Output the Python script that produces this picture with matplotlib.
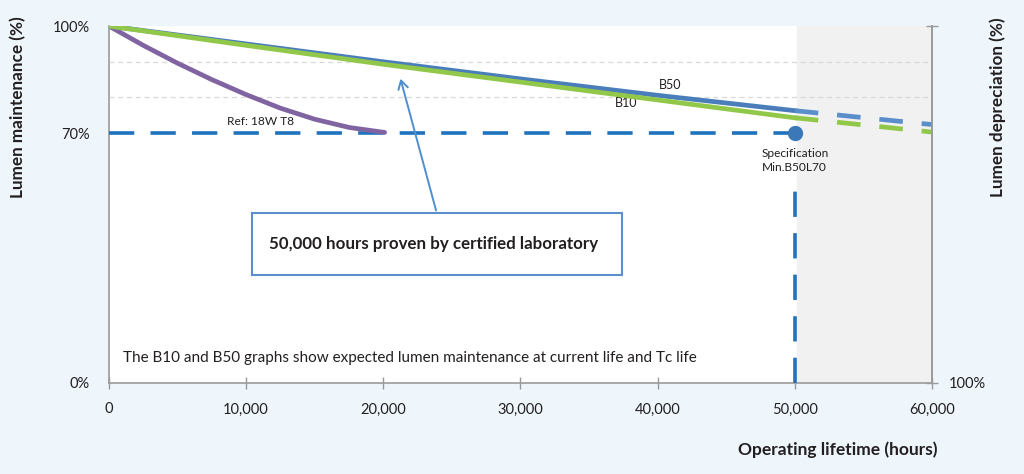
import numpy as np
import matplotlib
matplotlib.use("Agg")
import matplotlib.pyplot as plt
from matplotlib.patches import Rectangle
from matplotlib.ticker import FuncFormatter

plt.rcParams['font.family'] = ['Lato', 'DejaVu Sans']

# Data
hours = [0, 10000, 20000, 30000, 40000, 50000]
b50 = [100, 95.0, 90.0, 85.2, 80.6, 76.3]
b10 = [100, 94.6, 89.3, 84.3, 79.3, 74.3]
hours_ext = [50000, 60000]
b50_ext = [76.3, 72.4]
b10_ext = [74.3, 70.3]
ref_hours = [0, 2500, 5000, 7500, 10000, 12500, 15000, 17500, 20100]
ref_t8 = [100, 94.6, 89.6, 85.0, 80.8, 77.0, 73.9, 71.6, 70.2]
spec_hours = 50000
spec_level = 70
x_ticks = [0, 10000, 20000, 30000, 40000, 50000, 60000]

bg = '#eef6fc'
txt = '#231f20'
blue = '#4a7ebb'
green = '#92c84a'
purple = '#8064a2'
spec_blue = '#1f72bd'
spine_c = '#9a9a9a'

fig = plt.figure(figsize=(10.24, 4.74), dpi=100, facecolor=bg)
ax = fig.add_axes([0.1064, 0.192, 0.8037, 0.753])
ax.set_xlim(0, 60000)
ax.set_ylim(0, 100)

# shaded region beyond spec
ax.axvspan(50150, 60000, color='#f1f1f1', zorder=0)

# grid lines
for g in [80, 90]:
    ax.axhline(g, color='#d9d9d9', lw=0.9, ls=(0, (4, 3)), zorder=1)

# 70% spec line and vertical marker
ax.plot([0, spec_hours], [spec_level, spec_level], color=spec_blue, lw=2.6,
        ls=(0, (7, 4.5)), zorder=3)
ax.plot([spec_hours, spec_hours], [0, 57], color=spec_blue, lw=2.6,
        ls=(0, (7, 4.5)), zorder=3)
ax.plot([spec_hours], [spec_level], 'o', color='#3a78b8', ms=10, zorder=5)

# curves
ax.plot(ref_hours, ref_t8, color=purple, lw=3.4, solid_capstyle='round', zorder=4)
ax.plot(hours, b50, color=blue, lw=3.4, zorder=4)
ax.plot(hours, b10, color=green, lw=3.4, zorder=4)
ax.plot(hours_ext, b10_ext, color=green, lw=3.4, ls=(0, (5, 4)), zorder=4)
ax.plot(hours_ext, b50_ext, color='#5b8fcb', lw=3.4, ls=(0, (5, 4)), zorder=4)

# labels on the chart
ax.text(11080, 73.4, 'Ref: 18W T8', fontsize=8.6, color=txt, ha='center', va='center')
ax.text(40900, 83.6, 'B50', fontsize=9, color=txt, ha='center', va='center')
ax.text(37700, 78.4, 'B10', fontsize=9, color=txt, ha='center', va='center')
ax.text(50000, 62.3, 'Specification\nMin.B50L70', fontsize=8.6, color=txt,
        ha='center', va='center', linespacing=1.3)
ax.text(1050, 7.0, 'The B10 and B50 graphs show expected lumen maintenance at current life and Tc life',
        fontsize=11, color=txt, ha='left', va='center')

# callout box with arrow
ax.add_patch(Rectangle((10450, 30.3), 26950, 17.3, fill=False, ec='#5b8fcb', lw=1.5, zorder=6))
ax.text(23700, 39.0, '50,000 hours proven by certified laboratory', fontsize=12.2,
        fontweight='bold', color=txt, ha='center', va='center', zorder=7)
ax.annotate('', xy=(21200, 86.0), xytext=(23900, 47.6),
            arrowprops=dict(arrowstyle='->,head_length=0.6,head_width=0.35',
                            color='#4f8fcf', lw=1.4), zorder=7)

# axes styling
ax.spines['top'].set_visible(False)
for s in ['left', 'bottom', 'right']:
    ax.spines[s].set_color(spine_c)
    ax.spines[s].set_linewidth(1.2)

ax.set_xticks(x_ticks)
ax.xaxis.set_major_formatter(FuncFormatter(lambda v, p: f'{int(v):,}'))
ax.tick_params(axis='x', direction='inout', length=8, width=1, color=spine_c,
               labelsize=10.5, labelcolor=txt, pad=10)
ax.set_yticks([0, 70, 100])
ax.set_yticklabels(['0%', '70%', '100%'])
ax.tick_params(axis='y', length=0, labelsize=10.5, labelcolor=txt, pad=14)

ax2 = ax.twinx()
ax2.set_ylim(0, 100)
ax2.set_yticks([0, 100])
ax2.set_yticklabels(['100%', ''])
ax2.tick_params(axis='y', direction='inout', length=8, width=1, color=spine_c,
                labelsize=10.5, labelcolor=txt, pad=8)
for s in ['top', 'left', 'bottom']:
    ax2.spines[s].set_visible(False)
ax2.spines['right'].set_color(spine_c)
ax2.spines['right'].set_linewidth(1.2)

fig.text(18 / 1024, 1 - 107 / 474, 'Lumen maintenance (%)', rotation=90, fontsize=12.3,
         fontweight='bold', color=txt, ha='center', va='center')
fig.text(998 / 1024, 1 - 107 / 474, 'Lumen depreciation (%)', rotation=90, fontsize=12.3,
         fontweight='bold', color=txt, ha='center', va='center')
fig.text(938 / 1024, 1 - 450 / 474, 'Operating lifetime (hours)', fontsize=12.5,
         fontweight='bold', color=txt, ha='right', va='center')

fig.savefig('out.png', dpi=100, facecolor=bg)
